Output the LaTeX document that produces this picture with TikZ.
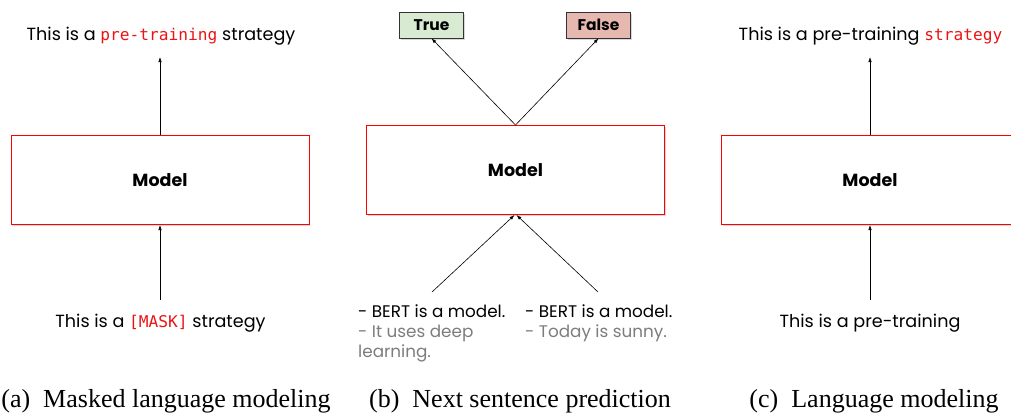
\documentclass[tikz,border=0pt]{standalone}
\usepackage{fontspec}
\setmainfont{Poppins}
\setmonofont[Scale=0.92]{DejaVu Sans Mono}
\newfontfamily\capfont{Liberation Serif}
\usetikzlibrary{arrows.meta,shadows}
\definecolor{truefill}{RGB}{217,234,211}
\definecolor{falsefill}{RGB}{230,184,175}
\definecolor{hint}{RGB}{125,125,125}
\definecolor{maskred}{RGB}{235,20,20}
\tikzset{
  modelbox/.style={draw=red, line width=1pt, fill=white, minimum width=298pt, minimum height=89pt,
    font=\fontsize{17.5}{20}\selectfont\bfseries,
    drop shadow={opacity=0.3, shadow xshift=1pt, shadow yshift=-1.5pt}},
  sent/.style={font=\fontsize{17.6}{20}\selectfont, inner sep=0pt},
  pair/.style={font=\fontsize{16.8}{19.6}\selectfont, inner sep=0pt, anchor=north west, align=left},
  label/.style={draw=black!80, line width=0.8pt, minimum width=64pt, minimum height=26pt, inner sep=0pt,
    font=\fontsize{15.5}{18}\selectfont\bfseries,
    drop shadow={opacity=0.3, shadow xshift=1pt, shadow yshift=-1.5pt}},
  conn/.style={-{Latex[length=5pt,width=3.5pt]}, line width=0.6pt},
  caption/.style={font=\capfont\fontsize{26}{30}\selectfont, inner sep=0pt}
}
\begin{document}
\begin{tikzpicture}[x=1pt,y=-1pt]
\useasboundingbox (0,0) rectangle (1011,416);
\clip (0,0) rectangle (1011,416);
\fill[white] (0,0) rectangle (1011,416);

% (a) masked language modeling
\node[modelbox] (ma) at (160,180) {Model};
\node[sent] (oa) at (161,36) {This is a \texttt{\textcolor{maskred}{pre-training}} strategy};
\node[sent] (ia) at (160.5,323) {This is a \texttt{\textcolor{maskred}{[MASK]}} strategy};
\coordinate (ta) at (160,57);
\coordinate (ba) at (160,300);
\draw[conn] (ma.north) -- (ta);
\draw[conn] (ba) -- (ma.south);
\node[caption] (ca) at (166,401) {(a)\enspace Masked language modeling};

% (b) next sentence prediction
\node[modelbox] (mb) at (515.5,170) {Model};
\node[label, fill=truefill] (tr) at (431.5,25) {True};
\node[label, fill=falsefill] (fa) at (598.5,25) {False};
\draw[conn] (mb.north) -- (tr.south);
\draw[conn] (mb.north) -- (fa.south);
\coordinate (bl) at (432,292);
\coordinate (br) at (598,292);
\draw[conn] (bl) -- ([xshift=-1pt]mb.south);
\draw[conn] (br) -- ([xshift=1pt]mb.south);
\node[pair] (pl) at (358,305)
  {- BERT is a model.\\\textcolor{hint}{- It uses deep}\\\textcolor{hint}{learning.}};
\node[pair] (pr) at (525,305)
  {- BERT is a model.\\\textcolor{hint}{- Today is sunny.}};
\node[caption] (cb) at (520,401) {(b)\enspace Next sentence prediction};

% (c) language modeling
\node[modelbox, minimum width=320pt, anchor=west] (mc) at (721,180) {};
\node[font=\fontsize{17.5}{20}\selectfont\bfseries] (mct) at (870,180) {Model};
\node[sent] (oc) at (870.5,36) {This is a pre-training \texttt{\textcolor{maskred}{strategy}}};
\node[sent] (ic) at (870,323) {This is a pre-training};
\coordinate (tc) at (870,57);
\coordinate (bc) at (870,300);
\draw[conn] (mct.center |- mc.north) -- (tc);
\draw[conn] (bc) -- (mct.center |- mc.south);
\node[caption] (cc) at (874,401) {(c)\enspace Language modeling};
\end{tikzpicture}
\end{document}
